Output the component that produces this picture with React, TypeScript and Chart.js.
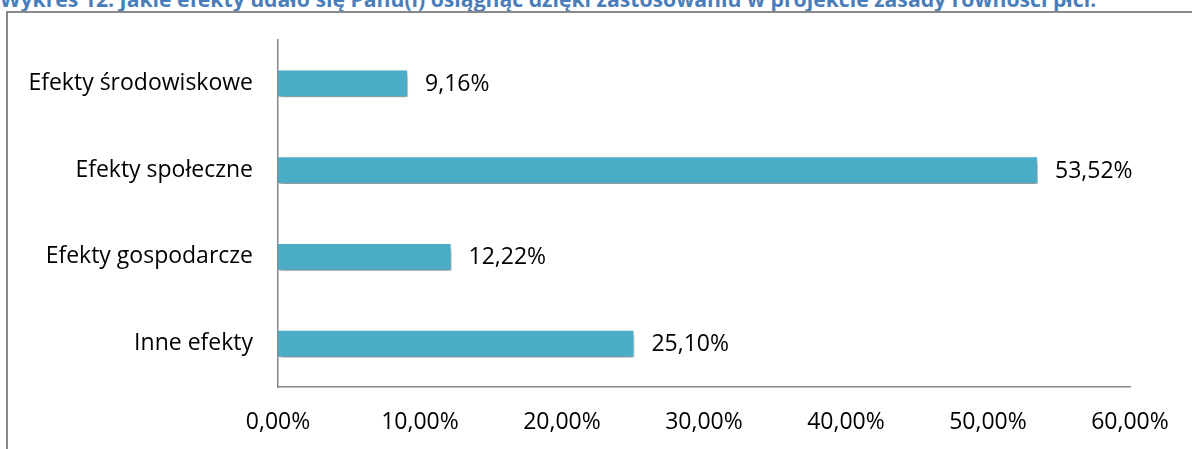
import React, { useEffect, useRef } from "react";
import { Chart, registerables } from "chart.js";

Chart.register(...registerables);

const categories: string[] = [
  "Efekty środowiskowe",
  "Efekty społeczne",
  "Efekty gospodarcze",
  "Inne efekty",
];
const values: number[] = [9.16, 53.52, 12.22, 25.1];
const xTicks: number[] = [0, 10, 20, 30, 40, 50, 60];
const titleText =
  "Wykres 12. Jakie efekty udało się Panu(i) osiągnąć dzięki zastosowaniu w projekcie zasady równości płci.";

const FONT = "'Open Sans', sans-serif";
const fmt = (v: number) => v.toFixed(2).replace(".", ",") + "%";

const shadowPlugin = {
  id: "barShadow",
  beforeDatasetsDraw(chart: any) {
    const ctx = chart.ctx;
    ctx.save();
    ctx.shadowColor = "rgba(0,0,0,0.45)";
    ctx.shadowBlur = 5;
    ctx.shadowOffsetX = 1;
    ctx.shadowOffsetY = 4;
  },
  afterDatasetsDraw(chart: any) {
    chart.ctx.restore();
  },
};

const labelPlugin = {
  id: "valueLabels",
  afterDraw(chart: any) {
    const ctx = chart.ctx;
    const meta = chart.getDatasetMeta(0);
    ctx.save();
    ctx.font = `23px ${FONT}`;
    ctx.fillStyle = "#000";
    ctx.textAlign = "left";
    ctx.textBaseline = "middle";
    meta.data.forEach((bar: any, i: number) => {
      ctx.fillText(fmt(values[i]), bar.x + 17, bar.y + 1);
    });
    ctx.restore();
  },
};

export default function App() {
  const ref = useRef<HTMLCanvasElement | null>(null);

  useEffect(() => {
    if (!ref.current) return;
    const chart = new Chart(ref.current, {
      type: "bar",
      data: {
        labels: categories,
        datasets: [
          {
            data: values,
            backgroundColor: "#4BACC6",
            borderColor: "rgba(255,255,255,0.7)",
            borderWidth: 1,
            categoryPercentage: 1,
            barPercentage: 0.32,
          },
        ],
      },
      options: {
        indexAxis: "y",
        responsive: false,
        animation: false,
        layout: { padding: { top: 40, right: 62, left: 0, bottom: 0 } },
        plugins: {
          legend: { display: false },
          title: { display: false },
          tooltip: { enabled: false },
        },
        scales: {
          x: {
            min: xTicks[0],
            max: xTicks[xTicks.length - 1],
            afterBuildTicks(scale: any) {
              scale.ticks = xTicks.map((v) => ({ value: v }));
            },
            afterFit(scale: any) {
              scale.height = 62;
            },
            grid: { display: false, drawTicks: false },
            border: { display: true, color: "#868686", width: 1.5 },
            ticks: {
              padding: 22,
              color: "#000",
              font: { family: FONT, size: 23 },
              maxRotation: 0,
              autoSkip: false,
              callback: (v: any) => fmt(Number(v)),
            },
          },
          y: {
            afterFit(scale: any) {
              scale.width = 278;
            },
            grid: { display: false, drawTicks: false },
            border: { display: true, color: "#868686", width: 1.5 },
            ticks: {
              padding: 25,
              color: "#000",
              font: { family: FONT, size: 23 },
            },
          },
        },
      },
      plugins: [shadowPlugin, labelPlugin],
    });
    return () => chart.destroy();
  }, []);

  return (
    <div
      style={{
        position: "fixed",
        left: 0,
        top: 0,
        width: 1192,
        height: 449,
        overflow: "hidden",
        background: "#fff",
      }}
    >
      <div
        style={{
          position: "absolute",
          left: 0,
          top: -12,
          whiteSpace: "nowrap",
          fontFamily: FONT,
          fontWeight: 700,
          fontSize: 21.2,
          lineHeight: "21px",
          color: "#4A7EBB",
        }}
      >
        {titleText}
      </div>
      <div
        style={{
          position: "absolute",
          left: 6,
          top: 11,
          width: 1300,
          height: 600,
          border: "2px solid #898989",
          boxSizing: "border-box",
        }}
      />
      <canvas
        ref={ref}
        width={1192}
        height={449}
        style={{ position: "absolute", left: 0, top: 0 }}
      />
    </div>
  );
}
